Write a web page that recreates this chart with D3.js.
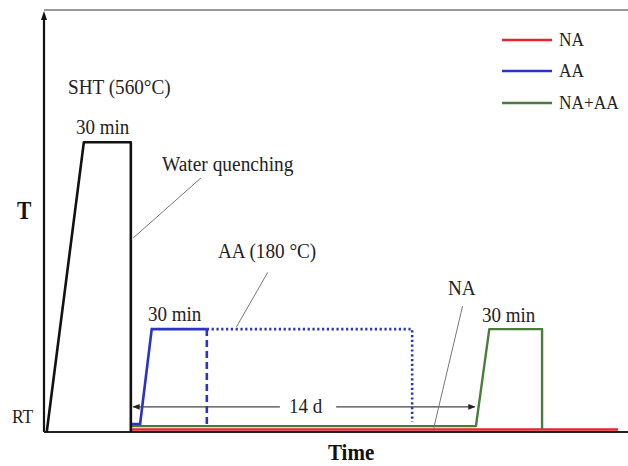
<!DOCTYPE html>
<html>
<head>
<meta charset="utf-8">
<script src="https://cdn.jsdelivr.net/npm/d3@7/dist/d3.min.js"></script>
<style>
  html, body { margin: 0; padding: 0; background: #fff; }
  svg { display: block; }
  text { font-family: "Liberation Serif", "Times New Roman", serif; fill: #222; }
</style>
</head>
<body>
<div id="chart"></div>
<script>
// Heat-treatment schedule (schematic): time in arbitrary units, temperature as relative level.
// Solution heat treatment followed by water quenching
const shtTime  = [0.3, 6.7, 14.8, 14.8];
const shtLevel = [0, 69, 69, 0];

// Artificial ageing (AA) – solid part, 30 min hold
const aaTime  = [14.8, 16.4, 18.4, 27.9];
const aaLevel = [1.9, 1.9, 24.5, 24.5];
// AA – alternative cooling (dashed) and extended hold (dotted)
const aaDashTime  = [27.9, 27.9];
const aaDashLevel = [24.5, 1.0];
const aaDotTime   = [27.9, 63.3, 63.3];
const aaDotLevel  = [24.5, 24.5, 2.4];

// Natural ageing followed by artificial ageing (NA+AA)
const naaaTime  = [14.8, 74.3, 76.6, 85.7, 85.7];
const naaaLevel = [1.4, 1.4, 24.5, 24.5, 0.5];

// Natural ageing (NA)
const naTime  = [14.8, 98.8];
const naLevel = [0.6, 0.6];

const legendNames  = ["NA", "AA", "NA+AA"];
const legendColors = ["#e3262b", "#2a33c4", "#4a7d3a"];

const W = 628, H = 466;
const svg = d3.select("#chart").append("svg").attr("width", W).attr("height", H);

const x = d3.scaleLinear().domain([0, 100]).range([45, 625]);
const y = d3.scaleLinear().domain([0, 100]).range([432, 12]);

const line = d3.line().x(d => x(d[0])).y(d => y(d[1]));
const pts = (t, l) => t.map((v, i) => [v, l[i]]);

// frame line along the top
svg.append("line").attr("x1", 44).attr("x2", W).attr("y1", 10).attr("y2", 10)
  .attr("stroke", "#9a9a9a").attr("stroke-width", 2);

// axes: bare lines, arrow on temperature axis
const yAxis = d3.axisLeft(y).tickValues([]).tickSizeOuter(0);
const xAxis = d3.axisBottom(x).tickValues([]).tickSizeOuter(0);
svg.append("g").attr("transform", `translate(${x(0) - 1},0)`).call(yAxis)
  .select(".domain").attr("stroke", "#111").attr("stroke-width", 2.2)
  .attr("d", `M0,${y(0)}V${y(99)}`);
svg.append("g").attr("transform", `translate(0,${y(0)})`).call(xAxis)
  .select(".domain").attr("stroke", "#222").attr("stroke-width", 2.2)
  .attr("d", `M${x(0) - 1},0H${W}`);
svg.append("path")
  .attr("d", `M${x(0) - 1},${y(100) - 1} l-3,9 l6,0 z`)
  .attr("fill", "#111");

// curves
svg.append("path").datum(pts(naTime, naLevel)).attr("d", line)
  .attr("fill", "none").attr("stroke", legendColors[0]).attr("stroke-width", 2.6);
svg.append("path").datum(pts(naaaTime, naaaLevel)).attr("d", line)
  .attr("fill", "none").attr("stroke", legendColors[2]).attr("stroke-width", 2.4)
  .attr("stroke-linejoin", "round");
svg.append("path").datum(pts(aaTime, aaLevel)).attr("d", line)
  .attr("fill", "none").attr("stroke", legendColors[1]).attr("stroke-width", 2.6);
svg.append("path").datum(pts(aaDashTime, aaDashLevel)).attr("d", line)
  .attr("fill", "none").attr("stroke", legendColors[1]).attr("stroke-width", 2.6)
  .attr("stroke-dasharray", "7,4");
svg.append("path").datum(pts(aaDotTime, aaDotLevel)).attr("d", line)
  .attr("fill", "none").attr("stroke", legendColors[1]).attr("stroke-width", 2.6)
  .attr("stroke-dasharray", "2.2,2.6");
svg.append("path").datum(pts(shtTime, shtLevel)).attr("d", line)
  .attr("fill", "none").attr("stroke", "#111").attr("stroke-width", 2.6)
  .attr("stroke-linejoin", "round");

// 14 d span arrows
const defs = svg.append("defs");
defs.append("marker").attr("id", "ah").attr("viewBox", "0 0 10 10")
  .attr("refX", 9).attr("refY", 5).attr("markerWidth", 6).attr("markerHeight", 6)
  .attr("orient", "auto-start-reverse")
  .append("path").attr("d", "M0,1 L10,5 L0,9 z").attr("fill", "#222");
const spanLevel = 6.0;
svg.append("line").attr("x1", x(15.2)).attr("x2", x(40.5))
  .attr("y1", y(spanLevel)).attr("y2", y(spanLevel))
  .attr("stroke", "#444").attr("stroke-width", 1.2).attr("marker-start", "url(#ah)");
svg.append("line").attr("x1", x(50.2)).attr("x2", x(74.1))
  .attr("y1", y(spanLevel)).attr("y2", y(spanLevel))
  .attr("stroke", "#444").attr("stroke-width", 1.2).attr("marker-end", "url(#ah)");

// leader lines
const leaders = [
  [[26.9, 60.5], [15.2, 46.2]],   // water quenching
  [[38.4, 38.0], [33.0, 25.0]],   // AA (180 °C)
  [[72.0, 30.0], [67.0, 0.8]]     // NA
];
leaders.forEach(l => svg.append("line")
  .attr("x1", x(l[0][0])).attr("y1", y(l[0][1]))
  .attr("x2", x(l[1][0])).attr("y2", y(l[1][1]))
  .attr("stroke", "#777").attr("stroke-width", 1));

// text labels (slightly tall serif lettering)
function label(txt, px, py, size, opts = {}) {
  const g = svg.append("g").attr("transform", `translate(${px},${py}) scale(1,${opts.sy || 1.13})`);
  g.append("text").text(txt)
    .attr("font-size", size)
    .attr("font-weight", opts.bold ? "bold" : "normal")
    .attr("text-anchor", opts.anchor || "start")
    .style("fill", opts.fill || "#222");
}
label("SHT (560°C)", 68, 94, 19.2);
label("30 min", 76, 134, 19);
label("Water quenching", 162, 171, 19.4);
label("AA (180 °C)", 218, 258, 19.2);
label("30 min", 148, 321, 19);
label("NA", 448, 295, 19.2);
label("30 min", 482, 322, 19);
label("14 d", 289, 413, 19);
label("RT", 12, 423, 17.5);
label("T", 17, 219, 21.5, { bold: true, fill: "#111", sy: 1.15 });
label("Time", 328, 460, 21, { bold: true, fill: "#111", sy: 1.05 });

// legend
const legendY = [40, 71, 103];
legendNames.forEach((n, i) => {
  svg.append("line").attr("x1", 502).attr("x2", 552)
    .attr("y1", legendY[i]).attr("y2", legendY[i])
    .attr("stroke", legendColors[i]).attr("stroke-width", 2.6);
  label(n, 559, legendY[i] + 6, 17.3);
});
</script>
</body>
</html>
